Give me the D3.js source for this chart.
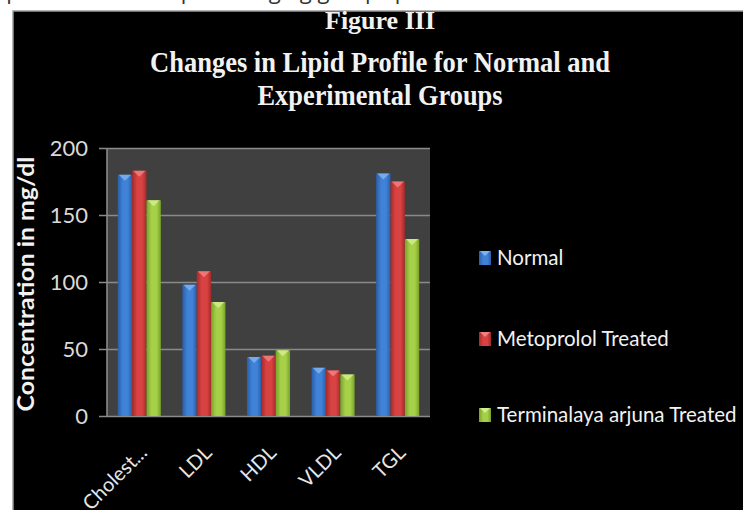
<!DOCTYPE html>
<html>
<head>
<meta charset="utf-8">
<script src="https://cdn.jsdelivr.net/npm/d3@7"></script>
<style>
  body { margin: 0; background: #fff; }
  svg { display: block; }
</style>
</head>
<body>
<div id="chart"></div>
<script>
// ---- data ----
const categories = ["Cholest...", "LDL", "HDL", "VLDL", "TGL"];
const seriesNames = ["Normal", "Metoprolol Treated", "Terminalaya arjuna Treated"];
const normal     = [180, 98, 44, 36, 181];
const metoprolol = [183, 108, 45, 34, 175];
const arjuna     = [161, 85, 49, 31, 132];
const yTicks = [0, 50, 100, 150, 200];
const titleLines = ["Figure III", "Changes in Lipid Profile for Normal and", "Experimental Groups"];

const width = 743, height = 510;
const margin = {left: 107, right: 313, top: 148, bottom: 94};

const svg = d3.select("#chart").append("svg").attr("width", width).attr("height", height);

// colours: [edge, centre, top bevel]
const colors = [
  ["#2a5ea6", "#3f82d8", "#7fb2f0"],
  ["#a52a2a", "#d94242", "#f08080"],
  ["#78a22a", "#a6d048", "#d2ee8e"]
];

const defs = svg.append("defs");
colors.forEach((c, i) => {
  const g = defs.append("linearGradient").attr("id", "grad" + i)
    .attr("x1", "0").attr("x2", "1").attr("y1", "0").attr("y2", "0");
  g.append("stop").attr("offset", "0%").attr("stop-color", c[0]);
  g.append("stop").attr("offset", "35%").attr("stop-color", c[1]);
  g.append("stop").attr("offset", "70%").attr("stop-color", c[1]);
  g.append("stop").attr("offset", "100%").attr("stop-color", c[0]);
});
defs.append("clipPath").attr("id", "topclip")
  .append("rect").attr("x", 0).attr("y", 0).attr("width", width).attr("height", 11);

// cut-off caption line above the figure (only the descenders show)
svg.append("text")
  .attr("clip-path", "url(#topclip)")
  .attr("x", -6).attr("y", -1)
  .attr("font-family", "Open Sans, sans-serif")
  .attr("font-size", 22)
  .attr("fill", "#333")
  .text("epresentation of lipid changing groups p");

// black figure box with thin grey border
svg.append("rect")
  .attr("x", 13).attr("y", 11)
  .attr("width", width).attr("height", height)
  .attr("fill", "#000")
  .attr("stroke", "#9a9a9a")
  .attr("stroke-width", 1.5);

// ---- title ----
const titleSpec = [
  {y: 29, size: 26, len: 110},
  {y: 72, size: 30, len: 460},
  {y: 105, size: 30, len: 245}
];
titleLines.forEach((t, i) => {
  svg.append("text")
    .attr("x", 380).attr("y", titleSpec[i].y)
    .attr("text-anchor", "middle")
    .attr("font-family", "Liberation Serif, Times New Roman, serif")
    .attr("font-weight", "bold")
    .attr("font-size", titleSpec[i].size)
    .attr("textLength", titleSpec[i].len)
    .attr("lengthAdjust", "spacingAndGlyphs")
    .attr("fill", "#f2f2f2")
    .text(t);
});

// ---- scales ----
const x0 = d3.scaleBand()
  .domain(categories)
  .range([margin.left, width - margin.right])
  .paddingInner(1 / 3)
  .paddingOuter(1 / 6);

const x1 = d3.scaleBand()
  .domain(d3.range(seriesNames.length))
  .range([0, x0.bandwidth()]);

const yscale = d3.scaleLinear()
  .domain([0, 200])
  .range([height - margin.bottom, margin.top]);

// plot area
svg.append("rect")
  .attr("x", margin.left)
  .attr("y", yscale(200))
  .attr("width", width - margin.right - margin.left)
  .attr("height", yscale(0) - yscale(200))
  .attr("fill", "#404040");

// gridlines + ticks
const yAxis = g => g
  .attr("transform", `translate(${width - margin.right},0)`)
  .call(d3.axisLeft(yscale).tickValues(yTicks)
    .tickSize(width - margin.right - margin.left + 8).tickFormat(""))
  .call(g => g.select(".domain").remove())
  .call(g => g.selectAll(".tick line").attr("stroke", "#8a8a8a").attr("stroke-width", 1.6));

svg.append("g").call(yAxis);

// left axis line
svg.append("line")
  .attr("x1", margin.left).attr("x2", margin.left)
  .attr("y1", yscale(200)).attr("y2", yscale(0))
  .attr("stroke", "#8a8a8a").attr("stroke-width", 1.6);

// y tick labels
svg.append("g").selectAll("text")
  .data(yTicks)
  .join("text")
  .attr("x", 88)
  .attr("y", d => yscale(d))
  .attr("dy", "0.36em")
  .attr("text-anchor", "end")
  .attr("font-family", "Lato, sans-serif")
  .attr("font-size", 22)
  .attr("fill", "#d9d9d9")
  .text(d => d);

// y axis title
svg.append("text")
  .attr("transform", `translate(34, ${(yscale(0) + yscale(200)) / 2 + 2}) rotate(-90)`)
  .attr("text-anchor", "middle")
  .attr("font-family", "Lato, sans-serif")
  .attr("font-weight", "bold")
  .attr("font-size", 22)
  .attr("textLength", 255)
  .attr("lengthAdjust", "spacingAndGlyphs")
  .attr("fill", "#f2f2f2")
  .text("Concentration in mg/dl");

// ---- bars ----
const series = [normal, metoprolol, arjuna];
const barData = [];
categories.forEach((c, ci) => {
  series.forEach((s, si) => barData.push({cat: c, s: si, v: s[ci]}));
});

const bars = svg.append("g");
bars.selectAll("rect")
  .data(barData)
  .join("rect")
  .attr("x", d => x0(d.cat) + x1(d.s))
  .attr("y", d => yscale(d.v))
  .attr("width", x1.bandwidth())
  .attr("height", d => yscale(0) - yscale(d.v))
  .attr("fill", d => `url(#grad${d.s})`);

// bevelled top
bars.selectAll("path")
  .data(barData)
  .join("path")
  .attr("d", d => {
    const bx = x0(d.cat) + x1(d.s), by = yscale(d.v), w = x1.bandwidth();
    return `M${bx + 1},${by}L${bx + w - 1},${by}L${bx + w / 2},${by + 6}Z`;
  })
  .attr("fill", d => colors[d.s][2])
  .attr("opacity", 0.85);

// ---- category labels ----
svg.append("g").selectAll("text")
  .data(categories)
  .join("text")
  .attr("transform", d => `translate(${x0(d) + x0.bandwidth() / 2 + 9}, 454) rotate(-45)`)
  .attr("text-anchor", "end")
  .attr("font-family", "Lato, sans-serif")
  .attr("font-size", 20)
  .attr("fill", "#e6e6e6")
  .text(d => d);

// ---- legend ----
const legendY = [258, 339, 415];
const legend = svg.append("g").selectAll("g")
  .data(seriesNames)
  .join("g")
  .attr("transform", (d, i) => `translate(479, ${legendY[i]})`);

legend.append("rect")
  .attr("x", 0).attr("y", -7)
  .attr("width", 12).attr("height", 14)
  .attr("fill", (d, i) => `url(#grad${i})`);

legend.append("path")
  .attr("d", "M1,-7L11,-7L6,-2Z")
  .attr("fill", (d, i) => colors[i][2]);

legend.append("text")
  .attr("x", 18)
  .attr("dy", "0.35em")
  .attr("font-family", "Lato, sans-serif")
  .attr("font-size", 20.5)
  .attr("fill", "#f2f2f2")
  .text(d => d);
</script>
</body>
</html>
